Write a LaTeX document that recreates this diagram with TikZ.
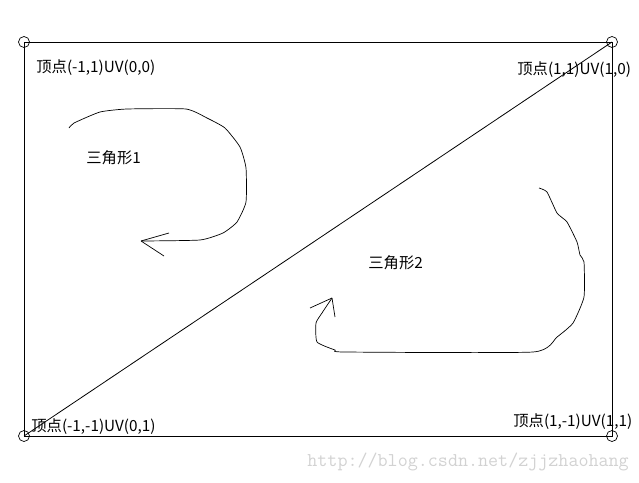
\documentclass[tikz,border=0pt]{standalone}
\usepackage{fontspec}
\newfontfamily\cjk{Noto Sans CJK SC}
\begin{document}
\begin{tikzpicture}[x=1pt, y=-1pt, line width=0.8pt,
    vert/.style={draw, circle, minimum size=11pt, inner sep=0pt, line width=0.7pt},
    lab/.style={anchor=west, inner sep=0pt, font=\cjk\fontsize{15.3}{17}\selectfont}]
\useasboundingbox (0,0) rectangle (639,482);
% corners of the quad
\node[vert] (tl) at (24,42) {};
\node[vert] (tr) at (612,42) {};
\node[vert] (br) at (612,436) {};
\node[vert] (bl) at (24,436) {};
\draw (tl.center)--(tr.center)--(br.center)--(bl.center)--cycle;
\draw (bl.center)--(tr.center);
% vertex labels
\node[lab] (ltl) at (36,68) {顶点(-1,1)UV(0,0)};
\node[lab] (ltr) at (517,70) {顶点(1,1)UV(1,0)};
\node[lab] (lbl) at (31,427) {顶点(-1,-1)UV(0,1)};
\node[lab] (lbr) at (513,422) {顶点(1,-1)UV(1,1)};
\node[lab] (t1) at (86,158) {三角形1};
\node[lab] (t2) at (368,263) {三角形2};
% hand drawn turning arrows
\coordinate (a1) at (141,241);
\draw[line width=0.7pt] plot[smooth, tension=.3] coordinates {(69,128) (74,123) (100,112) (127,109) (186,109) (207,118) (225,128) (240,147) (246,168) (246,202) (237,222) (223,233) (200,240) (141,241)};
\draw[line width=0.7pt] (a1)--(169,233) (a1)--(164,256);
\coordinate (a2) at (332,298);
\draw[line width=0.7pt] plot[smooth, tension=.3] coordinates {(539,188) (547,192) (557,213) (567,222) (577,242) (580,255) (584,262) (584,297) (573,323) (557,337) (533,352) (345,352) (335,350) (317,342) (316,323) (322,313) (332,298)};
\draw[line width=0.7pt] (a2)--(310,308) (a2)--(335,317);
% watermark
\node[anchor=west, inner sep=0pt, text=gray!35, font=\ttfamily\fontsize{19.5}{20}\selectfont] (wm) at (307,462) {http://blog.csdn.net/zjjzhaohang};
\end{tikzpicture}
\end{document}
